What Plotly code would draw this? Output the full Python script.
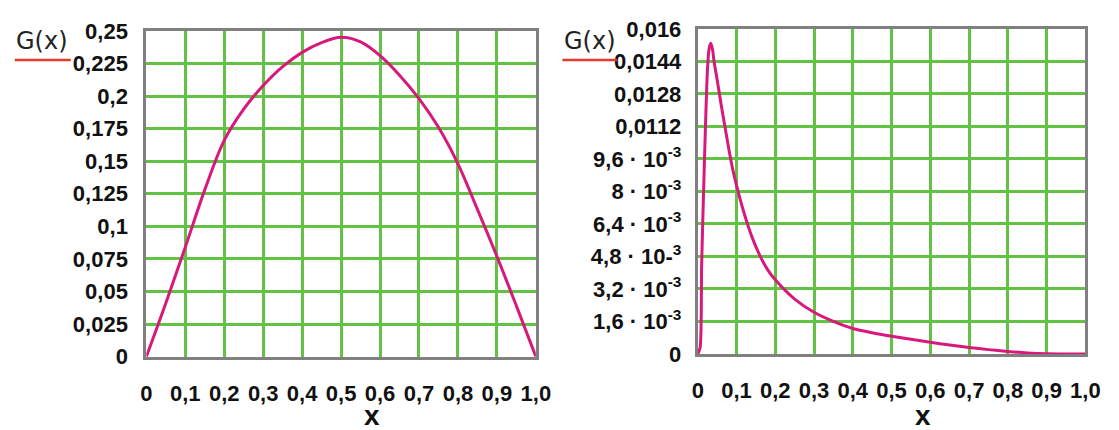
import plotly.graph_objects as go

# ---------------- data ----------------
x_left = [0, 0.05, 0.1, 0.15, 0.2, 0.25, 0.3, 0.35, 0.4, 0.45, 0.5, 0.55, 0.6,
          0.65, 0.7, 0.75, 0.8, 0.85, 0.9, 0.95, 1.0]
g_left = [0, 0.041, 0.084, 0.128, 0.166, 0.190, 0.208, 0.2225, 0.2335, 0.241,
          0.245, 0.2415, 0.231, 0.216, 0.198, 0.176, 0.148, 0.113, 0.077, 0.039, 0]

x_right = [0, 0.006, 0.010, 0.015, 0.020, 0.025, 0.029, 0.0335, 0.038, 0.042,
           0.05, 0.06, 0.07, 0.08, 0.09, 0.1, 0.12, 0.14, 0.16, 0.18, 0.2, 0.25,
           0.3, 0.35, 0.4, 0.45, 0.5, 0.55, 0.6, 0.65, 0.7, 0.75, 0.8, 0.85,
           0.9, 0.95, 1.0]
g_right = [0, 0.0003, 0.0044, 0.0080, 0.0113, 0.0140, 0.0150, 0.0153, 0.0150,
           0.0144, 0.0135, 0.0123, 0.0112, 0.0101, 0.0091, 0.0083, 0.0069,
           0.00575, 0.00485, 0.00415, 0.00365, 0.0027, 0.00205, 0.0016,
           0.00125, 0.00104, 0.00087, 0.00072, 0.00057, 0.00044, 0.00032,
           0.00021, 0.00012, 0.00005, 0.00001, 0, 0]

x_tickvals = [0, 0.1, 0.2, 0.3, 0.4, 0.5, 0.6, 0.7, 0.8, 0.9, 1.0]
x_ticktext = ["0", "0,1", "0,2", "0,3", "0,4", "0,5", "0,6", "0,7", "0,8", "0,9", "1,0"]

yl_tickvals = [0, 0.025, 0.05, 0.075, 0.1, 0.125, 0.15, 0.175, 0.2, 0.225, 0.25]
yl_ticktext = ["0", "0,025", "0,05", "0,075", "0,1", "0,125", "0,15", "0,175",
               "0,2", "0,225", "0,25"]

yr_tickvals = [0, 0.0016, 0.0032, 0.0048, 0.0064, 0.008, 0.0096, 0.0112,
               0.0128, 0.0144, 0.016]
yr_ticktext = ["0", "1,6 · 10<sup>-3</sup>", "3,2 · 10<sup>-3</sup>",
               "4,8 · 10-<sup>3</sup>", "6,4 · 10<sup>-3</sup>",
               "8 · 10<sup>-3</sup>", "9,6 · 10<sup>-3</sup>", "0,0112",
               "0,0128", "0,0144", "0,016"]

# ---------------- style ----------------
W, H = 1119, 430
GRID = "#62c244"
FRAME = "#808080"
CURVE = "#d8197c"
TICKFONT = dict(family="Liberation Sans, Arial, sans-serif",
                size=22, color="#111111", weight="bold")

fig = go.Figure()
fig.add_trace(go.Scatter(x=x_left, y=g_left, mode="lines",
                         line=dict(color=CURVE, width=3, shape="spline", smoothing=1.0),
                         xaxis="x", yaxis="y", showlegend=False, hoverinfo="skip"))
fig.add_trace(go.Scatter(x=x_right, y=g_right, mode="lines",
                         line=dict(color=CURVE, width=3, shape="spline", smoothing=0.7),
                         xaxis="x2", yaxis="y2", showlegend=False, hoverinfo="skip"))

def xax(domain):
    return dict(domain=domain, range=[0, 1], tickvals=x_tickvals, ticktext=x_ticktext,
                showgrid=True, gridcolor=GRID, gridwidth=3, zeroline=False,
                showline=True, linecolor=FRAME, linewidth=3, mirror=True,
                ticks="outside", ticklen=15, tickcolor="rgba(0,0,0,0)",
                tickfont=TICKFONT, fixedrange=True)

def yax(domain, rng, tv, tt, anchor, tl):
    return dict(domain=domain, range=rng, tickvals=tv, ticktext=tt, anchor=anchor,
                showgrid=True, gridcolor=GRID, gridwidth=3, zeroline=False,
                showline=True, linecolor=FRAME, linewidth=3, mirror=True,
                ticks="outside", ticklen=tl, tickcolor="rgba(0,0,0,0)",
                tickfont=TICKFONT, fixedrange=True)

xl0, xl1, yl_top, yl_bot = 143, 540, 20, 366
xr0, xr1, yr_top, yr_bot = 705, 1100, 18, 363

fig.update_layout(
    width=W, height=H, margin=dict(l=0, r=0, t=0, b=0),
    paper_bgcolor="white", plot_bgcolor="white",
    xaxis=dict(**xax([xl0 / W, xl1 / W]), anchor="y"),
    yaxis=yax([1 - yl_bot / H, 1 - yl_top / H], [0, 0.25], yl_tickvals, yl_ticktext, "x", 11),
    xaxis2=dict(**xax([xr0 / W, xr1 / W]), anchor="y2"),
    yaxis2=yax([1 - yr_bot / H, 1 - yr_top / H], [0, 0.016], yr_tickvals, yr_ticktext, "x2", 9),
)

LABELFONT = dict(family="DejaVu Sans, sans-serif", size=24, color="#222222")
XTFONT = dict(family="Liberation Sans, Arial, sans-serif", size=28, color="#111111")
for cx, ux0, ux1 in [(37, 9, 66), (595, 567, 623)]:
    fig.add_annotation(x=cx / W, y=1 - 31 / H, xref="paper", yref="paper",
                       text="G(x)", showarrow=False, font=LABELFONT,
                       xanchor="center", yanchor="middle")
    fig.add_shape(type="line", xref="paper", yref="paper",
                  x0=ux0 / W, x1=ux1 / W, y0=1 - 51 / H, y1=1 - 51 / H,
                  line=dict(color="#e5392c", width=2.5))

for cx in [373, 935]:
    fig.add_annotation(x=cx / W, y=1 - 428 / H, xref="paper", yref="paper",
                       text="<b>x</b>", showarrow=False, font=XTFONT,
                       xanchor="center", yanchor="middle")

fig.write_html("out.html")
